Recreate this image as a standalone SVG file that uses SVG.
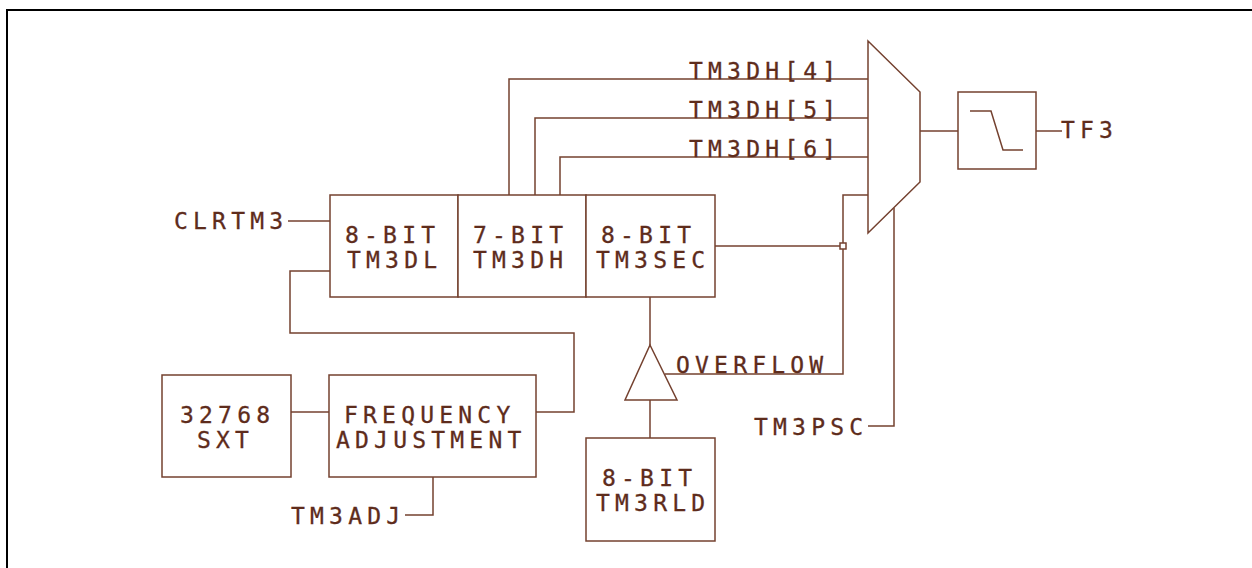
<svg xmlns="http://www.w3.org/2000/svg" width="1252" height="568" viewBox="0 0 1252 568">
<style>
.ln{fill:none;stroke:#74412f;stroke-width:1.5}
.bx{fill:#fff;stroke:#74412f;stroke-width:1.5}
.t{font-family:"DejaVu Sans Mono","Liberation Mono",monospace;font-size:23px;letter-spacing:5.2px;fill:#5e2c1c;stroke:#5e2c1c;stroke-width:0.3}
.frame{fill:none;stroke:#000;stroke-width:2}
</style>
<rect width="1252" height="568" fill="#fff"/>
<path class="frame" d="M7,568 V10 H1252"/>
<g id="connectors">
<path class="ln" d="M509,195 V79 H868"/>
<path class="ln" d="M535,195 V118 H868"/>
<path class="ln" d="M560,195 V157 H868"/>
<path class="ln" d="M920,131 H958"/>
<path class="ln" d="M1036,131 H1062"/>
<path class="ln" d="M288,221 H330"/>
<path class="ln" d="M330,271 H290 V333 H574 V412 H536"/>
<path class="ln" d="M291,412 H329"/>
<path class="ln" d="M433,477 V515 H405"/>
<path class="ln" d="M715,246 H840"/>
<path class="ln" d="M868,195 H843 V243"/>
<path class="ln" d="M843,249 V374 H665"/>
<rect class="ln" x="840" y="243" width="6" height="6"/>
<path class="ln" d="M894,208 V426 H868"/>
<path class="ln" d="M650,297 V345"/>
<path class="ln" d="M650,400 V438"/>
</g>
<g id="labels">
<text class="t" x="689" y="79">TM3DH[4]</text>
<text class="t" x="689" y="118">TM3DH[5]</text>
<text class="t" x="689" y="157">TM3DH[6]</text>
<text class="t" x="1061" y="138">TF3</text>
<text class="t" x="174" y="229">CLRTM3</text>
<text class="t" x="291" y="524">TM3ADJ</text>
<text class="t" x="676" y="373">OVERFLOW</text>
<text class="t" x="754" y="435">TM3PSC</text>
</g>
<g id="mux">
<polygon class="bx" points="868,41 920,92 920,182 868,233"/>
</g>
<g id="filter">
<rect class="bx" x="958" y="92" width="78" height="77"/>
<path class="ln" d="M970,111 H991 L1003,150 H1023"/>
</g>
<g id="tm3dl">
<rect class="bx" x="330" y="195" width="128" height="102"/>
<text class="t" x="345" y="243">8-BIT</text>
<text class="t" x="347" y="268">TM3DL</text>
</g>
<g id="tm3dh">
<rect class="bx" x="458" y="195" width="128" height="102"/>
<text class="t" x="473" y="243">7-BIT</text>
<text class="t" x="473" y="268">TM3DH</text>
</g>
<g id="tm3sec">
<rect class="bx" x="586" y="195" width="129" height="102"/>
<text class="t" x="601" y="243">8-BIT</text>
<text class="t" x="596" y="268">TM3SEC</text>
</g>
<g id="buffer">
<polygon class="bx" points="650,345 677,400 625,400"/>
</g>
<g id="tm3rld">
<rect class="bx" x="586" y="438" width="129" height="103"/>
<text class="t" x="602" y="486">8-BIT</text>
<text class="t" x="596" y="511">TM3RLD</text>
</g>
<g id="sxt">
<rect class="bx" x="162" y="375" width="129" height="102"/>
<text class="t" x="180" y="423">32768</text>
<text class="t" x="197" y="448">SXT</text>
</g>
<g id="freq">
<rect class="bx" x="329" y="375" width="207" height="102"/>
<text class="t" x="344" y="423">FREQUENCY</text>
<text class="t" x="336" y="448">ADJUSTMENT</text>
</g>
</svg>
